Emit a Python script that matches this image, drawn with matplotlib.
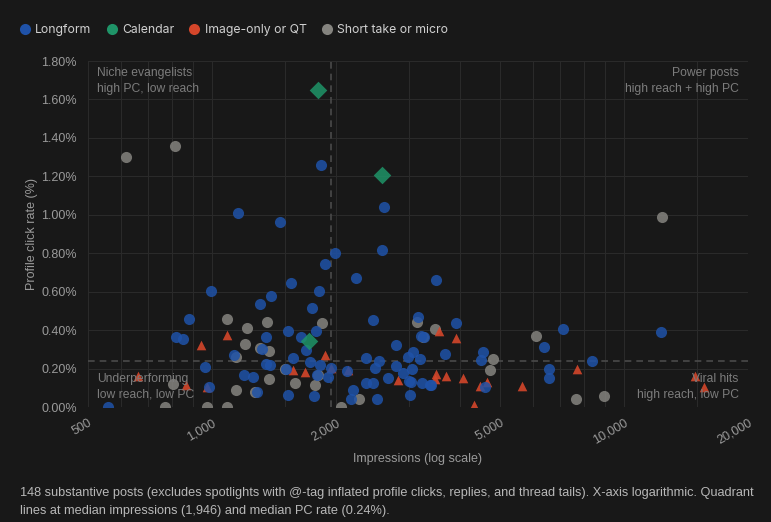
import matplotlib
matplotlib.use('Agg')
import matplotlib.pyplot as plt
from matplotlib.ticker import FixedLocator, FuncFormatter, NullLocator
from matplotlib.lines import Line2D

# Data: impressions and profile click rate (%)
longform_imp = [1835, 1157, 1462, 1985, 1880, 2235, 1558, 1818, 996, 1390,
                1305, 1750, 880, 820, 850, 1355, 1530, 1645, 1790, 1695,
                1130, 1570, 1355, 1380, 1725, 1830, 1950, 960, 1510, 1800,
                1910, 2130, 1195, 1260, 985, 1285, 1530, 1770, 2200, 2170,
                2365, 2465, 2490, 2520, 2365, 2460, 2620, 2590, 3490, 3170,
                3900, 3220, 3270, 2790, 7100, 6400, 12300, 8350, 2540, 3080,
                2990, 3190, 3670, 4540, 4490, 2790, 2910, 3050, 2680, 3010,
                3040, 3230, 3390, 3410, 3030, 4600, 6560, 6570, 1320, 560]
longform_pc = [1.257, 1.008, 0.961, 0.80, 0.744, 0.671, 0.643, 0.605, 0.605, 0.577,
               0.536, 0.515, 0.458, 0.366, 0.355, 0.366, 0.394, 0.364, 0.394, 0.295,
               0.27, 0.257, 0.222, 0.217, 0.234, 0.218, 0.205, 0.208, 0.198, 0.165,
               0.158, 0.187, 0.168, 0.158, 0.103, 0.076, 0.064, 0.057, 0.09, 0.043,
               0.126, 0.123, 0.203, 0.04, 0.253, 0.451, 1.039, 0.815, 0.662, 0.47,
               0.435, 0.371, 0.366, 0.321, 0.406, 0.312, 0.392, 0.238, 0.238, 0.288,
               0.262, 0.248, 0.274, 0.285, 0.245, 0.213, 0.175, 0.20, 0.149, 0.135,
               0.132, 0.123, 0.114, 0.116, 0.064, 0.106, 0.20, 0.151, 0.30, 0.0]

calendar_imp = [1810, 2580, 1715]
calendar_pc = [1.65, 1.207, 0.343]

image_imp = [1090, 940, 660, 865, 975, 1880, 1570, 1685, 1950, 2140,
             2820, 3560, 3900, 3500, 3690, 3470, 4070, 4460, 4640, 4330,
             5640, 7700, 14900, 15630]
image_pc = [0.375, 0.32, 0.16, 0.115, 0.105, 0.27, 0.194, 0.18, 0.205, 0.19,
            0.142, 0.395, 0.36, 0.17, 0.163, 0.147, 0.15, 0.11, 0.13, 0.01,
            0.11, 0.196, 0.163, 0.106]

short_imp = [618, 813, 12380, 1090, 1217, 1362, 1200, 1305, 1377, 1146,
             804, 1372, 1145, 1270, 770, 970, 1090, 2060, 1590, 1780,
             2270, 1500, 1810, 1850, 3150, 3470, 3260, 4800, 4740, 6100,
             7650, 8950]
short_pc = [1.30, 1.36, 0.99, 0.46, 0.41, 0.44, 0.33, 0.305, 0.29, 0.26,
            0.12, 0.146, 0.088, 0.078, 0.0, 0.0, 0.0, 0.0, 0.127, 0.113,
            0.043, 0.20, 0.165, 0.435, 0.44, 0.405, 0.365, 0.25, 0.19, 0.37,
            0.04, 0.055]

median_imp = 1946
median_pc = 0.24

x_ticks = [500, 1000, 2000, 5000, 10000, 20000]
x_minor = [600, 700, 800, 900, 1500, 3000, 4000, 6000, 7000, 8000, 9000, 15000]
y_ticks = [0.0, 0.2, 0.4, 0.6, 0.8, 1.0, 1.2, 1.4, 1.6, 1.8]

BG = '#181818'
BLUE = '#1f52a8'
GREEN = '#1f9468'
RED = '#d4462a'
GREY = '#85847f'
TICK = '#9a9a9a'
SANS = ['Liberation Sans', 'DejaVu Sans']

fig = plt.figure(figsize=(7.71, 5.22), dpi=100, facecolor=BG)
ax = fig.add_axes([0.1141, 0.2203, 0.8561, 0.6628], facecolor=BG)

ax.set_xscale('log')
ax.set_xlim(500, 20000)
ax.set_ylim(0, 1.8)

ax.xaxis.set_major_locator(FixedLocator(x_ticks))
ax.xaxis.set_minor_locator(FixedLocator(x_minor))
ax.xaxis.set_major_formatter(FuncFormatter(lambda v, p: f'{int(v):,}'))
ax.xaxis.set_minor_formatter(FuncFormatter(lambda v, p: ''))
ax.yaxis.set_major_locator(FixedLocator(y_ticks))
ax.yaxis.set_minor_locator(NullLocator())
ax.yaxis.set_major_formatter(FuncFormatter(lambda v, p: f'{v:.2f}%'))
ax.grid(True, which='both', color='#2a2a2a', linewidth=0.8)
ax.set_axisbelow(True)

for s in ax.spines.values():
    s.set_visible(False)
ax.tick_params(which='both', length=0, colors=TICK, labelsize=9)
ax.tick_params(axis='x', pad=7)
ax.tick_params(axis='y', pad=8)
for lab in ax.get_xticklabels():
    lab.set_rotation(30)
    lab.set_ha('right')
    lab.set_rotation_mode('anchor')
    lab.set_family(SANS)
for lab in ax.get_yticklabels():
    lab.set_family(SANS)

# quadrant lines at the medians
ax.axvline(median_imp, color='#4a4a4a', linestyle=(0, (4, 3)), linewidth=1.2, zorder=1)
ax.axhline(median_pc, color='#4a4a4a', linestyle=(0, (4, 3)), linewidth=1.2, zorder=1)

ax.scatter(short_imp, short_pc, s=64, marker='o', color=GREY, alpha=0.85,
           linewidths=0, zorder=3)
ax.scatter(image_imp, image_pc, s=48, marker='^', color=RED, alpha=0.9,
           linewidths=0, zorder=3)
ax.scatter(longform_imp, longform_pc, s=64, marker='o', color=BLUE, alpha=0.85,
           linewidths=0, zorder=4)
ax.scatter(calendar_imp, calendar_pc, s=80, marker='D', color=GREEN, alpha=0.85,
           linewidths=0, zorder=5)

qfont = dict(color='#7c7c7c', fontsize=8.7, family=SANS,
             linespacing=1.4, transform=ax.transAxes, zorder=6)
ax.text(0.014, 0.982, 'Niche evangelists\nhigh PC, low reach', ha='left', va='top', **qfont)
ax.text(0.986, 0.982, 'Power posts\nhigh reach + high PC', ha='right', va='top', **qfont)
ax.text(0.014, 0.018, 'Underperforming\nlow reach, low PC', ha='left', va='bottom', **qfont)
ax.text(0.986, 0.018, 'Viral hits\nhigh reach, low PC', ha='right', va='bottom', **qfont)

ax.set_xlabel('Impressions (log scale)', color=TICK, fontsize=9,
              family=SANS, labelpad=5)
ax.set_ylabel('Profile click rate (%)', color=TICK, fontsize=9,
              family=SANS, labelpad=2)

# legend across the top
handles = [Line2D([], [], marker='o', linestyle='', markersize=8,
                  markerfacecolor=c, markeredgewidth=0)
           for c in [BLUE, GREEN, RED, GREY]]
names = ['Longform', 'Calendar', 'Image-only or QT', 'Short take or micro']
fig.legend(handles, names, loc='upper left', bbox_to_anchor=(0.01, 0.975),
           ncol=4, frameon=False, handletextpad=0.35, columnspacing=1.15,
           handlelength=1.0, labelcolor='#d0d0d0',
           prop={'family': ['Inter', 'DejaVu Sans'], 'size': 8.8})

fig.text(0.026, 0.01,
         '148 substantive posts (excludes spotlights with @-tag inflated profile clicks, '
         'replies, and thread tails). X-axis logarithmic. Quadrant\n'
         'lines at median impressions (1,946) and median PC rate (0.24%).',
         color='#b8b8b8', fontsize=9.2, linespacing=1.6,
         family=['Liberation Sans Narrow', 'Liberation Sans', 'DejaVu Sans'],
         ha='left', va='bottom')

fig.savefig('out.png', dpi=100, facecolor=BG)
